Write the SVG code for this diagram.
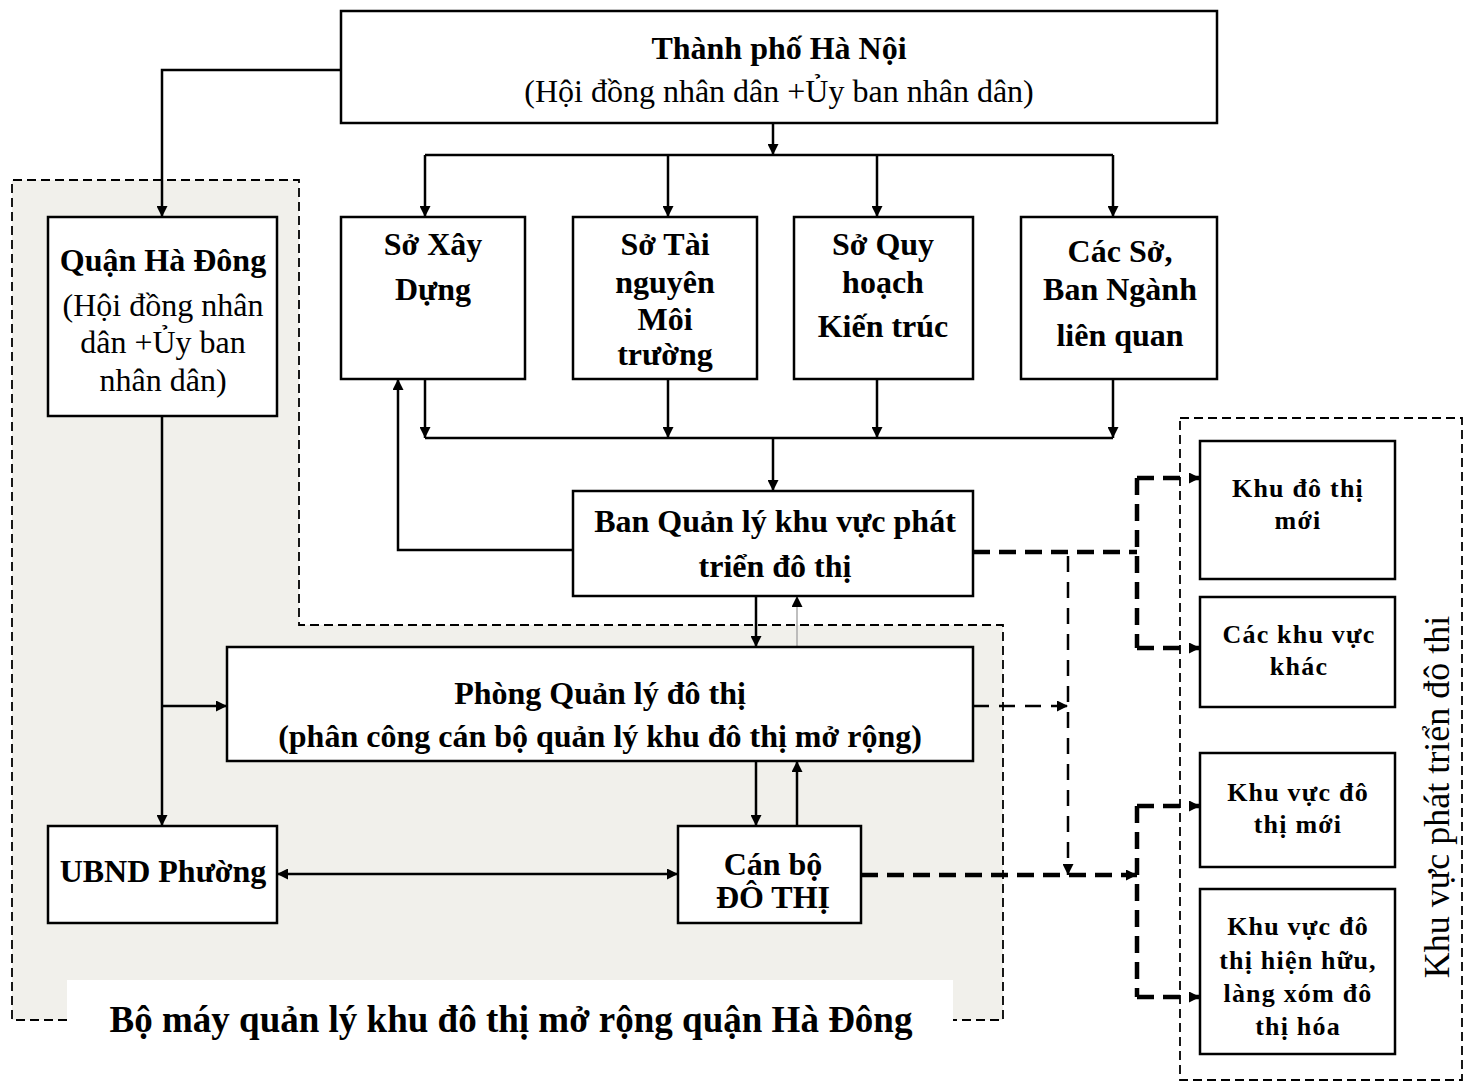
<svg xmlns="http://www.w3.org/2000/svg" width="1472" height="1084" viewBox="0 0 1472 1084">
<style>
  .box { fill: #ffffff; stroke: #000; stroke-width: 2.5; }
  .b { font-family: "Liberation Serif", "Times New Roman", serif; font-weight: bold; font-size: 32px; fill: #000; text-anchor: middle; }
  .r { font-family: "Liberation Serif", "Times New Roman", serif; font-size: 32px; fill: #000; text-anchor: middle; }
  .s { font-family: "Liberation Serif", "Times New Roman", serif; font-weight: bold; font-size: 26px; letter-spacing: 1.2px; fill: #000; text-anchor: middle; }
  .ln { fill: none; stroke: #000; stroke-width: 2.5; }
  .hd { fill: none; stroke: #000; stroke-width: 4.5; stroke-dasharray: 17 9; }
  .md { fill: none; stroke: #000; stroke-width: 2.5; stroke-dasharray: 16 10; }
  .thin { fill: none; stroke: #000; stroke-width: 1.8; stroke-dasharray: 9 5; }
</style>
<defs>
  <marker id="ah" viewBox="0 0 10 10" refX="10" refY="5" markerWidth="14" markerHeight="11" markerUnits="userSpaceOnUse" orient="auto-start-reverse">
    <path d="M0,0 L10,5 L0,10 z" fill="#000"/>
  </marker>
</defs>
<rect width="1472" height="1084" fill="#ffffff"/>

<!-- shaded district region -->
<g id="district-region">
  <path d="M12,180 H299 V625 H1003 V1020 H12 Z" fill="#f1f0eb" stroke="none"/>
  <rect x="67" y="980" width="886" height="50" fill="#ffffff"/>
  <path d="M67,1020 H12 V180 H299 V625 H1003 V1020 H953" class="thin"/>
  <text x="511" y="1032" class="b" style="font-size:37px">Bộ máy quản lý khu đô thị mở rộng quận Hà Đông</text>
</g>

<!-- right region -->
<g id="urban-region">
  <rect x="1180" y="418" width="282" height="662" class="thin"/>
  <text transform="translate(1449,797) rotate(-90)" class="r" style="font-size:36px">Khu vực phát triển đô thi</text>
</g>

<g id="connectors">
  <path d="M341,70 H162 V217" class="ln" marker-end="url(#ah)"/>
  <path d="M773,123 V155" class="ln" marker-end="url(#ah)"/>
  <path d="M425,155 H1113" class="ln"/>
  <path d="M425,155 V217" class="ln" marker-end="url(#ah)"/>
  <path d="M668,155 V217" class="ln" marker-end="url(#ah)"/>
  <path d="M877,155 V217" class="ln" marker-end="url(#ah)"/>
  <path d="M1113,155 V217" class="ln" marker-end="url(#ah)"/>
  <path d="M425,379 V438" class="ln" marker-end="url(#ah)"/>
  <path d="M668,379 V438" class="ln" marker-end="url(#ah)"/>
  <path d="M877,379 V438" class="ln" marker-end="url(#ah)"/>
  <path d="M1113,379 V438" class="ln" marker-end="url(#ah)"/>
  <path d="M425,438 H1113" class="ln"/>
  <path d="M773,438 V491" class="ln" marker-end="url(#ah)"/>
  <path d="M573,550 H398 V379" class="ln" marker-end="url(#ah)"/>
  <path d="M162,416 V826" class="ln" marker-end="url(#ah)"/>
  <path d="M162,706 H227" class="ln" marker-end="url(#ah)"/>
  <path d="M756,596 V647" class="ln" marker-end="url(#ah)"/>
  <path d="M797,647 V596" fill="none" stroke="#aaa" stroke-width="1.5" marker-end="url(#ah)"/>
  <path d="M756,761 V826" class="ln" marker-end="url(#ah)"/>
  <path d="M797,826 V761" class="ln" marker-end="url(#ah)"/>
  <path d="M277,874 H678" class="ln" marker-start="url(#ah)" marker-end="url(#ah)"/>
  <!-- dashed connectors -->
  <path d="M973,552 H1137" class="hd"/>
  <path d="M1137,478 V648" class="hd"/>
  <path d="M1137,478 H1200" class="hd" marker-end="url(#ah)"/>
  <path d="M1137,648 H1200" class="hd" marker-end="url(#ah)"/>
  <path d="M1068,556 V875" class="md" marker-end="url(#ah)"/>
  <path d="M973,706 H1068" class="md" marker-end="url(#ah)"/>
  <path d="M861,875 H1137" class="hd" marker-end="url(#ah)"/>
  <path d="M1137,806 V997" class="hd"/>
  <path d="M1137,806 H1200" class="hd" marker-end="url(#ah)"/>
  <path d="M1137,997 H1200" class="hd" marker-end="url(#ah)"/>
</g>

<g id="ha-noi">
  <rect x="341" y="11" width="876" height="112" class="box"/>
  <text x="779" y="59" class="b">Thành phố Hà Nội</text>
  <text x="779" y="102" class="r">(Hội đồng nhân dân +Ủy ban nhân dân)</text>
</g>

<g id="quan-ha-dong">
  <rect x="48" y="217" width="229" height="199" class="box"/>
  <text x="163" y="271" class="b">Quận Hà Đông</text>
  <text x="163" y="316" class="r">(Hội đồng nhân</text>
  <text x="163" y="353" class="r">dân +Ủy ban</text>
  <text x="163" y="391" class="r">nhân dân)</text>
</g>

<g id="so-xay-dung">
  <rect x="341" y="217" width="184" height="162" class="box"/>
  <text x="433" y="255" class="b">Sở Xây</text>
  <text x="433" y="300" class="b">Dựng</text>
</g>

<g id="so-tai-nguyen">
  <rect x="573" y="217" width="184" height="162" class="box"/>
  <text x="665" y="255" class="b">Sở Tài</text>
  <text x="665" y="293" class="b">nguyên</text>
  <text x="665" y="330" class="b">Môi</text>
  <text x="665" y="365" class="b">trường</text>
</g>

<g id="so-quy-hoach">
  <rect x="794" y="217" width="179" height="162" class="box"/>
  <text x="883" y="255" class="b">Sở Quy</text>
  <text x="883" y="293" class="b">hoạch</text>
  <text x="883" y="337" class="b">Kiến trúc</text>
</g>

<g id="cac-so">
  <rect x="1021" y="217" width="196" height="162" class="box"/>
  <text x="1120" y="262" class="b">Các Sở,</text>
  <text x="1120" y="300" class="b">Ban Ngành</text>
  <text x="1120" y="346" class="b">liên quan</text>
</g>

<g id="ban-quan-ly">
  <rect x="573" y="491" width="400" height="105" class="box"/>
  <text x="775" y="532" class="b">Ban Quản lý khu vực phát</text>
  <text x="775" y="577" class="b">triển đô thị</text>
</g>

<g id="phong-quan-ly">
  <rect x="227" y="647" width="746" height="114" class="box"/>
  <text x="600" y="704" class="b">Phòng Quản lý đô thị</text>
  <text x="600" y="747" class="b">(phân công cán bộ quản lý khu đô thị mở rộng)</text>
</g>

<g id="ubnd-phuong">
  <rect x="48" y="826" width="229" height="97" class="box"/>
  <text x="163" y="882" class="b">UBND Phường</text>
</g>

<g id="can-bo">
  <rect x="678" y="826" width="183" height="97" class="box"/>
  <text x="773" y="875" class="b">Cán bộ</text>
  <text x="773" y="908" class="b">ĐÔ THỊ</text>
</g>

<g id="khu-do-thi-moi">
  <rect x="1200" y="441" width="195" height="138" class="box"/>
  <text x="1298" y="497" class="s">Khu đô thị</text>
  <text x="1298" y="529" class="s">mới</text>
</g>

<g id="cac-khu-vuc-khac">
  <rect x="1200" y="597" width="195" height="110" class="box"/>
  <text x="1299" y="643" class="s">Các khu vực</text>
  <text x="1299" y="675" class="s">khác</text>
</g>

<g id="khu-vuc-do-thi-moi">
  <rect x="1200" y="753" width="195" height="114" class="box"/>
  <text x="1298" y="801" class="s">Khu vực đô</text>
  <text x="1298" y="833" class="s">thị mới</text>
</g>

<g id="khu-vuc-hien-huu">
  <rect x="1200" y="889" width="195" height="165" class="box"/>
  <text x="1298" y="935" class="s">Khu vực đô</text>
  <text x="1298" y="969" class="s">thị hiện hữu,</text>
  <text x="1298" y="1002" class="s">làng xóm đô</text>
  <text x="1298" y="1035" class="s">thị hóa</text>
</g>
</svg>
